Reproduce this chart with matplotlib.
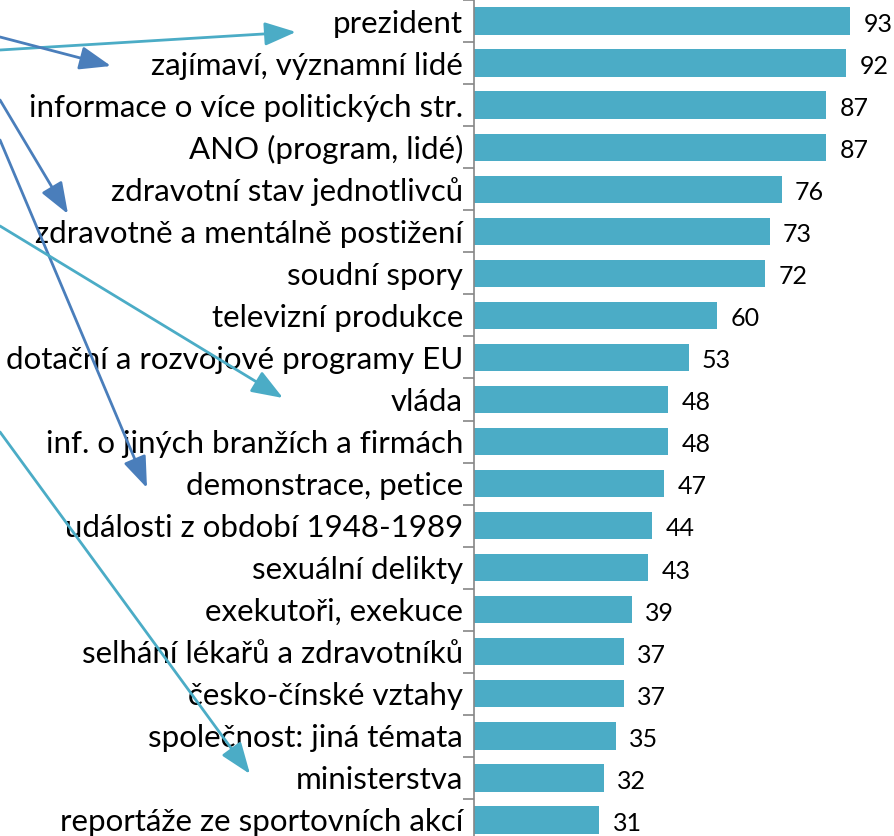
import matplotlib
matplotlib.use("Agg")
import matplotlib.pyplot as plt

categories = [
    "prezident",
    "zajímaví, významní lidé",
    "informace o více politických str.",
    "ANO (program, lidé)",
    "zdravotní stav jednotlivců",
    "zdravotně a mentálně postižení",
    "soudní spory",
    "televizní produkce",
    "dotační a rozvojové programy EU",
    "vláda",
    "inf. o jiných branžích a firmách",
    "demonstrace, petice",
    "události z období 1948-1989",
    "sexuální delikty",
    "exekutoři, exekuce",
    "selhání lékařů a zdravotníků",
    "česko-čínské vztahy",
    "společnost: jiná témata",
    "ministerstva",
    "reportáže ze sportovních akcí",
]
values = [93, 92, 87, 87, 76, 73, 72, 60, 53, 48, 48, 47, 44, 43, 39, 37, 37, 35, 32, 31]

# leftover connector arrows (figure pixels, origin top-left): (x0, y0, x1, y1, colour)
arrows = [
    (0, 50, 296, 32, "#4BACC6"),
    (0, 37, 111, 66, "#4A7EBB"),
    (0, 100, 68, 214, "#4A7EBB"),
    (0, 140, 147, 488, "#4A7EBB"),
    (0, 226, 283, 398, "#4BACC6"),
    (0, 432, 250, 774, "#4BACC6"),
]

W, H = 895, 836
plt.rcParams["font.family"] = ["Lato", "DejaVu Sans"]
fig = plt.figure(figsize=(W / 100, H / 100), dpi=100)
ax = fig.add_axes([474 / W, -5 / H, 1 - 474 / W, 841 / H])

y = list(range(len(categories)))
ax.barh(y, values, height=0.65, color="#4BACC6", edgecolor="none")
ax.set_ylim(len(categories) - 0.5, -0.5)
ax.set_xlim(0, 104)

for yi, v in zip(y, values):
    ax.text(v + 3.3, yi + 0.08, f"{v}", va="center", ha="left", fontsize=18, color="black")

ax.set_yticks(y)
ax.set_yticklabels(categories, fontsize=22.5)
ax.tick_params(axis="y", which="major", length=0, pad=8)
ax.set_yticks([i - 0.5 for i in range(len(categories) + 1)], minor=True)
ax.tick_params(axis="y", which="minor", length=8, color="#868686", width=1.2)
ax.set_xticks([])
for s in ("top", "right", "bottom"):
    ax.spines[s].set_visible(False)
ax.spines["left"].set_color("#868686")
ax.spines["left"].set_linewidth(1.2)

for x0, y0, x1, y1, c in arrows:
    fig.add_artist(matplotlib.patches.FancyArrowPatch(
        (x0 / W, 1 - y0 / H), (x1 / W, 1 - y1 / H), transform=fig.transFigure,
        arrowstyle="-|>,head_length=12,head_width=4.5", color=c, lw=2.0,
        mutation_scale=1.6, shrinkA=0, shrinkB=0))

fig.savefig("out.png", dpi=100)
